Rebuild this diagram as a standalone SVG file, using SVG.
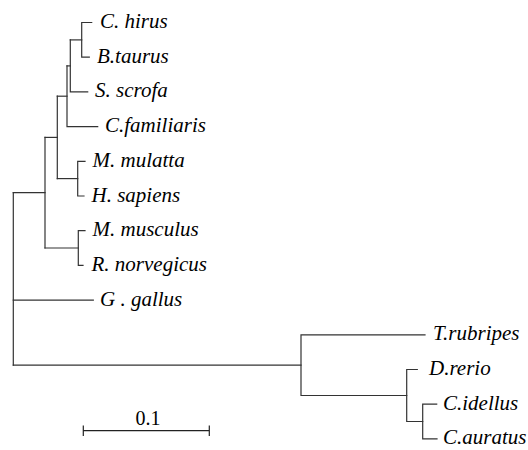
<svg xmlns="http://www.w3.org/2000/svg" width="528" height="450" viewBox="0 0 528 450">
  <style>
    .br { fill: none; stroke: #333; stroke-width: 1.2; stroke-linecap: square; }
    text { font-family: 'Liberation Serif', 'DejaVu Serif', serif; fill: #000; }
    .lbl { font-style: italic; font-size: 21px; }
    .scl { font-size: 20px; text-anchor: middle; }
  </style>
  <rect width="528" height="450" fill="#fff"/>

  <!-- tree branches -->
  <g id="branches" class="br">
    <!-- mammal clade -->
    <path d="M91.7,22.5 H81.7 V57.2 H89.3"/>
    <path d="M81.7,39.9 H70.3"/>
    <path d="M70.3,39.9 V91.9 H87.7"/>
    <path d="M70.3,65.9 H67"/>
    <path d="M67,65.9 V126.6 H97.7"/>
    <path d="M67,96.2 H57.3"/>
    <path d="M85,161.3 H77.7 V196 H84"/>
    <path d="M77.7,178.6 H57.3"/>
    <path d="M57.3,96.2 V178.6"/>
    <path d="M57.3,137.4 H45"/>
    <path d="M85,230.7 H78.3 V265.4 H83"/>
    <path d="M78.3,248 H45"/>
    <path d="M45,137.4 V248"/>
    <path d="M45,192.7 H13.3"/>
    <!-- root -->
    <path d="M13.3,192.7 V365.2"/>
    <path d="M13.3,300.1 H93.3"/>
    <path d="M13.3,365.2 H301"/>
    <!-- fish clade -->
    <path d="M425,334.8 H301 V395.5 H406.7"/>
    <path d="M417.3,369.5 H406.7 V421.5 H422.7"/>
    <path d="M436.7,404.2 H422.7 V438.9 H437"/>
  </g>

  <!-- leaf labels -->
  <g font-family="Liberation Serif, serif">
    <g id="leaf-chirus"><text class="lbl" x="100" y="28">C. hirus</text></g>
    <g id="leaf-btaurus"><text class="lbl" x="97" y="62.7">B.taurus</text></g>
    <g id="leaf-sscrofa"><text class="lbl" x="95" y="97.4">S. scrofa</text></g>
    <g id="leaf-cfamiliaris"><text class="lbl" x="105" y="132.1">C.familiaris</text></g>
    <g id="leaf-mmulatta"><text class="lbl" x="92.5" y="166.8">M. mulatta</text></g>
    <g id="leaf-hsapiens"><text class="lbl" x="91.5" y="201.5">H. sapiens</text></g>
    <g id="leaf-mmusculus"><text class="lbl" x="92.5" y="236.2">M. musculus</text></g>
    <g id="leaf-rnorvegicus"><text class="lbl" x="91.5" y="270.9">R. norvegicus</text></g>
    <g id="leaf-ggallus"><text class="lbl" x="100" y="305.6">G . gallus</text></g>
    <g id="leaf-trubripes"><text class="lbl" x="433" y="340.3">T.rubripes</text></g>
    <g id="leaf-drerio"><text class="lbl" x="429" y="375">D.rerio</text></g>
    <g id="leaf-cidellus"><text class="lbl" x="443" y="409.7">C.idellus</text></g>
    <g id="leaf-cauratus"><text class="lbl" x="443" y="444.4">C.auratus</text></g>
  </g>

  <!-- scale bar -->
  <g id="scale-bar">
    <path class="br" d="M83.3,430.7 H209.3 M83.3,426 V435.4 M209.3,426 V435.4" style="stroke:#222"/>
    <text class="scl" x="148" y="425">0.1</text>
  </g>
</svg>
